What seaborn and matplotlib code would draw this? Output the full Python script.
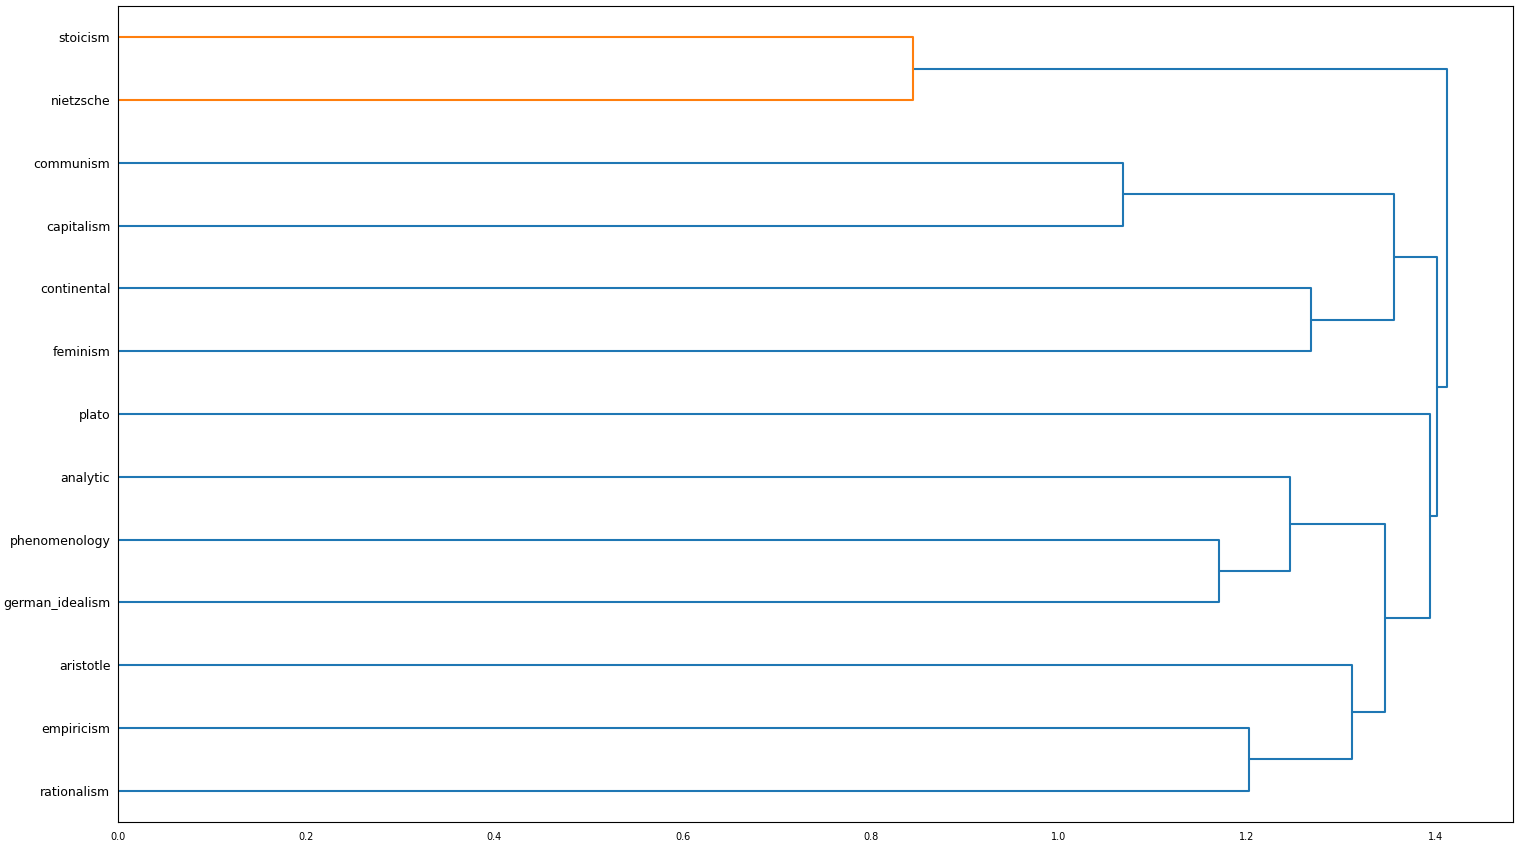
import matplotlib
matplotlib.use("Agg")
import matplotlib.pyplot as plt
import numpy as np
import pandas as pd
import seaborn as sns

sns.set_style("white")
plt.rcParams['font.family'] = ['DejaVu Sans']

# Leaves from bottom to top (dendrogram leaf order)
leaves = ['rationalism', 'empiricism', 'aristotle', 'german_idealism',
          'phenomenology', 'analytic', 'plato', 'feminism', 'continental',
          'capitalism', 'communism', 'nietzsche', 'stoicism']

# Merges: (child a, child b, height); children are leaf names or merge ids "m<k>"
merge_a = ['empiricism', 'aristotle', 'german_idealism', 'analytic', 'm3', 'plato',
           'feminism', 'capitalism', 'm6', 'm8', 'nietzsche', 'm10']
merge_b = ['rationalism', 'm0', 'phenomenology', 'm2', 'm1', 'm4',
           'continental', 'communism', 'm7', 'm5', 'stoicism', 'm9']
merge_h = [1.202, 1.312, 1.170, 1.246, 1.347, 1.394,
           1.268, 1.068, 1.356, 1.402, 0.845, 1.412]

color_threshold = 0.7 * max(merge_h)

# Build U-shaped link paths from the merge table
pos = {name: 5 + 10 * i for i, name in enumerate(leaves)}
height = {name: 0.0 for name in leaves}
rows = []
for k, (a, b, h) in enumerate(zip(merge_a, merge_b, merge_h)):
    ya, yb = pos[a], pos[b]
    col = 'C1' if h < color_threshold else 'C0'
    for step, (x, y) in enumerate([(height[a], ya), (h, ya), (h, yb), (height[b], yb)]):
        rows.append({'link': k, 'step': step, 'dist': x, 'y': y, 'color': col})
    pos[f'm{k}'] = (ya + yb) / 2
    height[f'm{k}'] = h
links = pd.DataFrame(rows)

fig, ax = plt.subplots(figsize=(15.19, 8.46), dpi=100)
fig.subplots_adjust(left=118 / 1519, right=1513 / 1519, top=1 - 6 / 846, bottom=1 - 822 / 846)

sns.lineplot(data=links, x='dist', y='y', units='link', hue='color',
             palette={'C0': '#1f77b4', 'C1': '#ff7f0e'}, estimator=None,
             sort=False, legend=False, linewidth=1.5, ax=ax)

ax.set_xlim(0, max(merge_h) * 1.05)
ax.set_ylim(0, 10 * len(leaves))
ax.set_yticks([5 + 10 * i for i in range(len(leaves))])
ax.set_yticklabels(leaves, fontsize=9)
ax.tick_params(axis='y', length=0, pad=5.5, labelcolor='black')
ax.tick_params(axis='x', labelsize=7, length=3.5, color='black', labelcolor='black')
ax.set_xticks(np.arange(0, 1.41, 0.2))
ax.set_xlabel('')
ax.set_ylabel('')
for s in ax.spines.values():
    s.set_color('black')
    s.set_linewidth(0.8)

fig.savefig('out.png', dpi=100)
